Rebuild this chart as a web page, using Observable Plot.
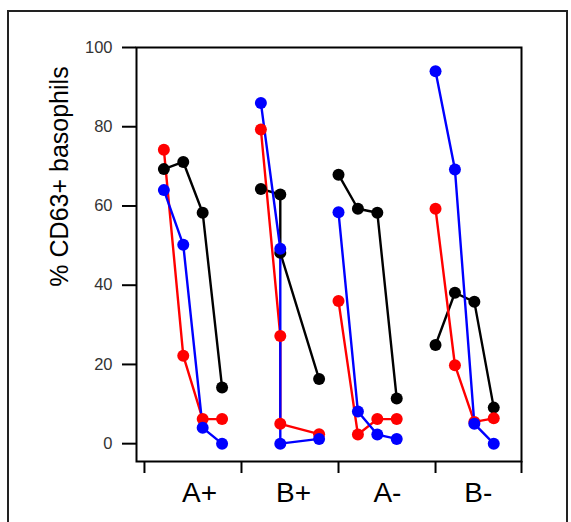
<!DOCTYPE html>
<html>
<head>
<meta charset="utf-8">
<script src="https://cdn.jsdelivr.net/npm/d3@7"></script>
<script src="https://cdn.jsdelivr.net/npm/@observablehq/plot@0.6"></script>
<style>
  html, body { margin: 0; padding: 0; background: #fff; }
  #wrap { position: relative; width: 571px; height: 522px; overflow: hidden; }
  #border { position: absolute; left: 7px; top: 10px; width: 561px; height: 530px; border: 2px solid #222; box-sizing: border-box; }
  #chart { position: absolute; left: 0; top: 0; }
  #ylabel { position: absolute; left: 0; top: 0; font-family: "Liberation Sans", Arial, sans-serif; font-size: 25px; color: #000; white-space: nowrap;
    transform-origin: 0 0; }
</style>
</head>
<body>
<div id="wrap">
  <div id="border"></div>
  <div id="chart"></div>
</div>
<script>
// Groups (x-axis categories) and their label positions on the slot axis
const groups = ["A+", "B+", "A-", "B-"];
const groupLabelSlots = [1.84, 6.68, 11.52, 16.2];
const groupTickSlots = [-1, 4, 9, 14, 18.43];
// Time-point slots for each group (B+ has two points at the same slot)
const slots = {
  "A+": [0, 1, 2, 3],
  "B+": [5, 6, 6, 8],
  "A-": [9, 10, 11, 12],
  "B-": [14, 15, 16, 17]
};
// Series values per group (% CD63+ basophils)
const blackValues = {
  "A+": [69.3, 71.1, 58.3, 14.2],
  "B+": [64.3, 62.9, 48.2, 16.3],
  "A-": [67.9, 59.3, 58.3, 11.4],
  "B-": [24.9, 38.1, 35.8, 9.1]
};
const redValues = {
  "A+": [74.2, 22.2, 6.2, 6.2],
  "B+": [79.3, 27.2, 5.0, 2.4],
  "A-": [36.0, 2.3, 6.2, 6.2],
  "B-": [59.3, 19.8, 5.5, 6.4]
};
const blueValues = {
  "A+": [64.0, 50.2, 4.0, 0.0],
  "B+": [86.0, 49.2, 0.0, 1.2],
  "A-": [58.4, 8.1, 2.3, 1.2],
  "B-": [94.0, 69.2, 5.0, 0.0]
};
const yTicks = [0, 20, 40, 60, 80, 100];
const yTitle = "% CD63+ basophils";

const seriesList = [
  {name: "black", color: "#000000", values: blackValues},
  {name: "red", color: "#ff0000", values: redValues},
  {name: "blue", color: "#0000ff", values: blueValues}
];

const rows = [];
for (const s of seriesList) {
  for (const g of groups) {
    s.values[g].forEach((v, i) => {
      rows.push({series: s.name, color: s.color, group: g, key: s.name + g, slot: slots[g][i], value: v, order: i});
    });
  }
}

const font = '"Liberation Sans", Arial, sans-serif';

const chart = Plot.plot({
  width: 571,
  height: 522,
  marginLeft: 136,
  marginRight: 50,
  marginTop: 47,
  marginBottom: 61,
  style: {fontFamily: font, background: "transparent", overflow: "visible"},
  x: {type: "linear", domain: [-1.41, 18.43]},
  y: {domain: [-4.5, 100]},
  marks: [
    Plot.axisY({ticks: yTicks, tickSize: 14, tickPadding: 10, fontSize: 16.5, color: "#333", label: null, strokeWidth: 2, stroke: "#000"}),
    Plot.axisX({ticks: groupTickSlots, tickSize: 12, tickFormat: () => "", label: null, strokeWidth: 2}),
    Plot.axisX({ticks: groupLabelSlots, tickSize: 0, tickPadding: 21, fontSize: 28, color: "#000", label: null,
      tickFormat: (d, i) => groups[i]}),
    Plot.frame({stroke: "#000", strokeWidth: 2}),
    Plot.line(rows, {x: "slot", y: "value", z: "key", stroke: "color", strokeWidth: 2.4, sort: null}),
    Plot.dot(rows, {x: "slot", y: "value", fill: "color", r: 6, stroke: null})
  ]
});
document.getElementById("chart").appendChild(chart);

// Y-axis title (rotated), placed relative to the plot
const yl = document.createElement("div");
yl.id = "ylabel";
yl.textContent = yTitle;
document.getElementById("wrap").appendChild(yl);
const w = yl.getBoundingClientRect().width;
const cy = 176.5;
yl.style.transform = `translate(45px, ${cy + w / 2}px) rotate(-90deg)`;
</script>
</body>
</html>
